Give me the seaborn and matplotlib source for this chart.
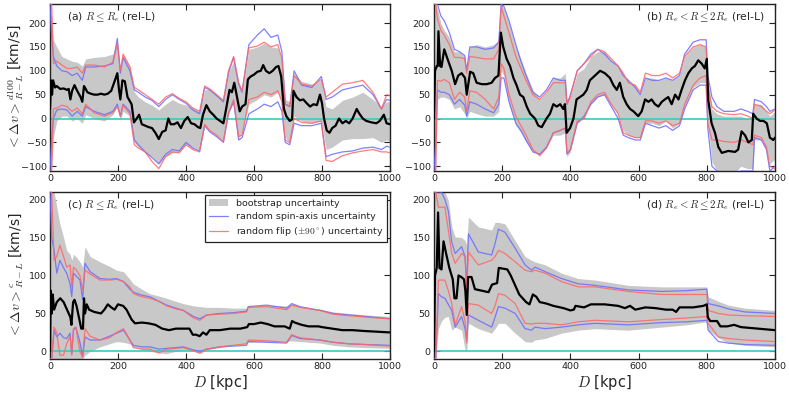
import numpy as np
import pandas as pd
import matplotlib
matplotlib.use("Agg")
import matplotlib.pyplot as plt
from matplotlib.patches import Patch
from matplotlib.lines import Line2D
import seaborn as sns

# ---------------- data ----------------
x_ticks = [0, 200, 400, 600, 800, 1000]
y_ticks_top = [-100, -50, 0, 50, 100, 150, 200]
y_ticks_bot = [0, 50, 100, 150, 200]
panel_titles = [r"(a) $R\leq R_e$ (rel-L)", r"(b) $R_e<R\leq 2R_e$ (rel-L)",
                r"(c) $R\leq R_e$ (rel-L)", r"(d) $R_e<R\leq 2R_e$ (rel-L)"]
legend_labels = ["bootstrap uncertainty", "random spin-axis uncertainty",
                 r"random flip ($\pm90^\circ$) uncertainty"]

# panel (a): mean (D, value)
mean_a = [(0, 20), (3, 80), (6, 50), (9, 80), (15, 65), (20, 68), (30, 62), (40, 63), (50, 60), (55, 62),
          (60, 40), (65, 58), (72, 70), (80, 58), (90, 45), (95, 35), (100, 68), (105, 62), (110, 55), (120, 52),
          (130, 50), (140, 50), (150, 52), (160, 50), (170, 52), (180, 58), (190, 78), (198, 95), (203, 60),
          (207, 40), (213, 80), (220, 78), (228, 45), (240, 30), (247, -8), (255, 0), (262, 8), (270, -12),
          (280, -15), (290, -18), (300, -20), (310, -30), (320, -43), (330, -28), (340, -25), (348, 0),
          (355, -12), (365, -12), (375, -8), (385, -20), (395, -5), (405, 3), (415, -10), (425, -12),
          (435, -18), (442, -20), (450, 8), (460, 28), (470, 15), (480, 8), (490, 0), (500, -5), (510, -10),
          (518, 20), (528, 60), (535, 55), (542, 75), (550, 45), (558, 15), (565, 25), (575, 30), (582, 82),
          (590, 88), (600, 92), (610, 98), (620, 100), (627, 112), (635, 100), (645, 95), (655, 100),
          (665, 108), (672, 110), (680, 88), (688, 20), (695, 5), (705, -5), (712, -2), (716, 58), (725, 45),
          (735, 38), (745, 40), (755, 32), (765, 25), (775, 30), (785, 28), (794, 50), (800, 32), (806, 0),
          (814, -25), (822, -30), (830, -20), (840, -15), (850, 0), (860, -10), (870, -5), (880, -10),
          (890, 0), (902, 20), (910, 10), (920, 0), (930, -5), (945, -8), (960, -10), (970, -5), (982, 8),
          (990, -10), (1000, -12)]
D_band_a = [0, 5, 10, 20, 35, 50, 65, 80, 95, 105, 130, 160, 185, 198, 207, 215, 235, 248, 260, 280,
            300, 320, 340, 360, 380, 400, 420, 440, 455, 470, 490, 510, 525, 540, 555, 565, 585, 610, 630,
            650, 670, 682, 692, 705, 718, 740, 770, 798, 812, 830, 860, 890, 920, 950, 975, 990, 1000]
boot_hi_a = [240, 200, 165, 150, 130, 125, 120, 118, 110, 125, 128, 130, 135, 160, 100, 135, 110, 55, 45, 35,
             28, 18, 30, 40, 32, 28, 22, 15, 60, 62, 50, 38, 95, 120, 70, 55, 145, 150, 158, 150,
             148, 120, 40, 35, 95, 78, 72, 80, 25, 20, 38, 45, 55, 40, 25, 35, 35]
boot_lo_a = [-110, -100, -40, -5, 5, 5, -5, 0, -10, 8, 0, -5, 8, 25, -5, 15, 5, -50, -60, -72,
             -80, -95, -80, -72, -70, -55, -60, -65, -15, -25, -35, -45, 15, 35, -40, -30, 30, 40, 50, 45,
             55, 35, -40, -50, 5, -5, -10, -5, -65, -60, -45, -42, -42, -40, -50, -45, -50]
spin_hi_a = [240, 170, 130, 110, 100, 98, 90, 95, 80, 108, 108, 110, 115, 168, 95, 128, 100, 60, 55, 45,
             38, 25, 40, 50, 40, 32, 18, 10, 65, 60, 48, 35, 95, 128, 72, 55, 155, 175, 188, 170,
             175, 140, 30, 25, 100, 70, 65, 88, 40, 45, 60, 65, 70, 50, 20, 40, 38]
spin_lo_a = [-110, -40, 0, 18, 20, 18, 5, 15, 5, 25, 15, 8, 15, 30, 5, 30, 15, -45, -55, -70,
             -82, -95, -75, -65, -68, -50, -62, -68, -15, -28, -38, -50, 10, 35, -45, -40, 10, 20, 30, 25,
             35, 15, -50, -55, -10, -15, -15, -10, -80, -75, -70, -68, -62, -60, -65, -58, -60]
flip_hi_a = [240, 240, 115, 120, 112, 105, 105, 108, 95, 112, 112, 108, 118, 158, 100, 135, 108, 65, 60, 50,
             40, 30, 45, 52, 42, 35, 22, 15, 68, 62, 50, 38, 100, 130, 75, 58, 148, 152, 160, 150,
             155, 125, 30, 25, 90, 72, 68, 82, 45, 55, 72, 75, 80, 55, 20, 50, 48]
flip_lo_a = [-110, -110, 20, 22, 28, 25, 15, 22, 10, 30, 12, 5, 12, 25, 5, 28, 10, -55, -62, -70,
             -90, -105, -80, -70, -72, -55, -65, -70, -12, -25, -35, -48, 12, 40, -38, -35, 40, 45, 55, 50,
             58, 35, -45, -50, 0, -8, -10, -5, -88, -90, -78, -72, -68, -65, -70, -70, -72]

# panel (b)
mean_b = [(0, 0), (3, 100), (8, 110), (11, 110), (13, 183), (18, 110), (22, 108), (30, 145), (42, 120),
          (52, 100), (62, 72), (71, 90), (81, 95), (91, 85), (96, 50), (106, 98), (115, 95), (125, 75),
          (140, 72), (155, 72), (169, 75), (179, 85), (189, 90), (196, 180), (203, 150), (213, 125),
          (223, 110), (233, 85), (242, 70), (252, 50), (262, 45), (272, 25), (282, 10), (296, 0), (306, -15),
          (316, -18), (330, 0), (340, 10), (350, 30), (360, 25), (370, 30), (379, 20), (384, 30), (389, -30),
          (399, -20), (409, 0), (418, 40), (428, 45), (438, 50), (448, 60), (457, 80), (472, 90), (487, 100),
          (501, 95), (516, 85), (526, 70), (536, 60), (545, 75), (555, 45), (565, 30), (575, 20), (585, 15),
          (599, 5), (609, 15), (619, 40), (629, 35), (638, 40), (648, 30), (658, 25), (668, 35), (677, 40),
          (687, 45), (697, 30), (707, 50), (717, 40), (726, 60), (736, 80), (746, 95), (756, 105), (765, 110),
          (775, 122), (785, 115), (794, 105), (800, 125), (804, 40), (814, -10), (824, -30), (834, -60),
          (844, -72), (863, -68), (883, -70), (892, -65), (902, -27), (912, -35), (922, -50), (932, -45),
          (936, 10), (946, 0), (956, -5), (966, -5), (976, -10), (985, -40), (995, -45), (1000, -40)]
D_band_b = [0, 5, 10, 20, 30, 45, 60, 75, 90, 96, 105, 125, 150, 175, 190, 197, 205, 220, 240, 255, 270,
            290, 310, 330, 350, 370, 385, 390, 400, 420, 440, 460, 480, 500, 520, 540, 555, 570, 590, 605,
            620, 640, 660, 680, 700, 720, 735, 760, 780, 798, 803, 815, 830, 850, 880, 900, 920, 935, 940,
            960, 975, 985, 1000]
boot_hi_b = [240, 240, 230, 200, 185, 170, 140, 140, 130, 95, 150, 155, 150, 155, 165, 240, 230, 200, 150,
             125, 95, 60, 40, 55, 85, 85, 95, 40, 45, 95, 105, 130, 140, 140, 120, 110, 90, 80, 70, 50,
             85, 85, 80, 85, 80, 90, 130, 150, 155, 150, 80, 20, 10, 5, 5, 5, 0, 0, 30, 30, 15, 5, 15]
boot_lo_b = [-110, -110, 40, 45, 45, 40, 20, 25, 10, 0, 15, 10, 5, 5, 15, 100, 90, 30, -15, -30, -50,
             -70, -75, -60, -35, -35, -30, -80, -70, -10, 0, 30, 45, 50, 30, 10, -25, -35, -40, -40,
             -10, -10, -15, -5, -20, -10, 25, 65, 75, 75, -10, -90, -110, -115, -115, -100, -105, -105,
             -45, -45, -65, -95, -85]
spin_hi_b = [240, 240, 240, 215, 205, 180, 145, 140, 132, 100, 150, 150, 145, 148, 160, 240, 235, 205, 155,
             120, 90, 55, 45, 60, 85, 80, 80, 30, 50, 100, 115, 135, 145, 135, 120, 110, 90, 80, 65, 50,
             85, 80, 80, 85, 80, 90, 135, 160, 165, 165, 90, 45, 25, 15, 15, 20, 15, 10, 40, 35, 25, 15, 20]
spin_lo_b = [-110, -50, 60, 55, 55, 50, 30, 40, 28, 5, 35, 30, 20, 12, 30, 85, 85, 35, -10, -25, -45,
             -70, -75, -60, -30, -25, -20, -75, -65, -10, 5, 30, 45, 50, 25, 0, -35, -40, -45, -45,
             -10, -15, -20, -15, -25, -15, 20, 60, 70, 70, -20, -100, -110, -115, -115, -110, -110, -110,
             -40, -45, -65, -110, -100]
flip_hi_b = [240, 240, 210, 185, 175, 155, 128, 128, 125, 95, 130, 128, 125, 125, 145, 235, 215, 180, 130,
             105, 80, 50, 40, 55, 75, 75, 75, 30, 45, 100, 115, 130, 145, 140, 125, 110, 95, 75, 70, 55,
             95, 90, 90, 95, 85, 95, 130, 150, 155, 150, 70, 25, 15, 10, 8, 10, 5, 0, 30, 25, 15, 10, 18]
flip_lo_b = [-110, -110, 80, 78, 82, 75, 40, 55, 45, 15, 58, 55, 40, 20, 45, 115, 105, 50, 5, -15, -35,
             -65, -78, -62, -30, -25, -20, -72, -65, -5, 0, 35, 50, 55, 30, 10, -30, -35, -40, -40,
             -5, -5, -10, -5, -15, -10, 30, 70, 85, 90, -10, -45, -45, -48, -50, -45, -50, -55,
             -35, -40, -60, -100, -105]

# panel (c)
mean_c = [(0, 0), (2, 80), (5, 50), (8, 75), (12, 55), (20, 65), (30, 70), (40, 65), (50, 55), (60, 45),
          (63, 35), (68, 65), (72, 68), (78, 60), (85, 45), (92, 30), (97, 30), (100, 70), (103, 50),
          (108, 62), (115, 55), (130, 52), (150, 50), (160, 55), (170, 62), (180, 58), (190, 55), (200, 62),
          (215, 60), (225, 55), (240, 42), (250, 37), (270, 38), (290, 37), (310, 35), (330, 30), (350, 28),
          (370, 30), (390, 30), (410, 30), (420, 22), (430, 22), (440, 20), (450, 25), (460, 22), (470, 28),
          (500, 28), (530, 30), (560, 30), (580, 32), (585, 36), (600, 36), (620, 38), (640, 36), (660, 33),
          (690, 33), (705, 30), (712, 40), (720, 38), (740, 35), (760, 33), (790, 33), (800, 32), (830, 30),
          (860, 28), (890, 28), (920, 27), (960, 26), (1000, 25)]
D_band_c = [0, 5, 12, 20, 29, 40, 49, 59, 64, 69, 76, 88, 96, 103, 118, 147, 175, 196, 216, 235, 245,
            270, 294, 320, 343, 370, 392, 422, 441, 461, 500, 539, 578, 583, 637, 696, 711, 735, 794,
            833, 880, 931, 1000]
boot_hi_c = [210, 210, 210, 190, 168, 150, 133, 128, 120, 128, 125, 118, 111, 138, 125, 118, 112, 107, 105,
             95, 89, 82, 76, 73, 70, 66, 63, 60, 59, 58, 58, 57, 57, 60, 61, 60, 63, 59, 56, 52, 50, 48, 46]
boot_lo_c = [-10, -10, -10, -10, -10, -10, -10, -10, -10, -10, -10, -10, -10, -5, 0, 6, 10, 13, 12, 10,
             6, 3, 0, -2, -3, 0, 2, 0, -3, 2, 5, 8, 10, 12, 13, 13, 14, 13, 11, 8, 6, 5, 4]
spin_hi_c = [210, 150, 133, 103, 120, 110, 103, 89, 72, 103, 100, 94, 68, 116, 105, 96, 95, 96, 92, 82,
             78, 74, 72, 66, 61, 57, 54, 46, 43, 48, 50, 51, 53, 59, 61, 57, 63, 59, 54, 50, 48, 46, 43]
spin_lo_c = [-10, -10, 28, 19, 24, 18, 17, 24, -3, 28, 32, 12, -7, 19, 15, 15, 20, 24, 28, 15,
             8, 6, 6, 3, 4, 5, 6, 2, 0, 3, 6, 7, 8, 13, 12, 11, 21, 17, 15, 12, 10, 9, 8]
flip_hi_c = [210, 210, 120, 125, 140, 125, 111, 114, 85, 111, 108, 100, 81, 107, 102, 94, 94, 95, 92, 85,
             76, 72, 70, 66, 60, 56, 54, 44, 41, 48, 49, 50, 52, 58, 59, 55, 61, 58, 54, 49, 47, 45, 43]
flip_lo_c = [-10, -10, 32, 25, -5, -5, 10, 20, -5, 30, 32, 0, -8, 30, 20, 15, 18, 25, 30, 15,
             5, 3, 3, -2, 3, 4, 5, 1, -2, 3, 6, 8, 10, 15, 14, 12, 22, 18, 15, 12, 10, 9, 7]

# panel (d)
mean_d = [(0, 0), (3, 100), (8, 110), (12, 183), (16, 110), (22, 108), (28, 145), (35, 130), (45, 110),
          (55, 95), (60, 70), (66, 70), (72, 100), (80, 98), (88, 95), (92, 80), (96, 48), (100, 98),
          (110, 98), (120, 82), (140, 80), (160, 78), (170, 88), (185, 90), (190, 110), (215, 108),
          (225, 100), (240, 85), (250, 75), (260, 70), (270, 65), (280, 62), (290, 75), (300, 72),
          (310, 65), (330, 63), (350, 60), (380, 57), (400, 54), (410, 55), (415, 60), (440, 58), (450, 60),
          (460, 62), (500, 62), (540, 60), (560, 57), (575, 60), (590, 55), (620, 58), (650, 57), (680, 55),
          (700, 55), (710, 52), (720, 58), (760, 58), (790, 60), (800, 62), (803, 45), (810, 40), (830, 40),
          (840, 33), (860, 33), (880, 35), (900, 32), (950, 30), (1000, 28)]
D_band_d = [0, 5, 13, 22, 32, 42, 52, 62, 81, 91, 96, 101, 130, 169, 179, 189, 208, 238, 267, 286, 296,
            326, 374, 423, 472, 570, 668, 740, 800, 804, 834, 863, 912, 1000]
boot_hi_d = [210, 210, 210, 210, 210, 199, 164, 151, 150, 146, 140, 177, 164, 160, 170, 170, 168, 146, 125,
             120, 118, 114, 103, 96, 94, 87, 85, 85, 85, 72, 66, 61, 57, 54]
boot_lo_d = [-10, -10, 30, 40, 45, 46, 28, 32, 28, 2, 0, 37, 30, 24, 30, 37, 37, 24, 13, 12, 15, 17, 24,
             28, 30, 28, 32, 35, 39, 28, 18, 11, 8, 6]
spin_hi_d = [210, 210, 210, 210, 200, 185, 144, 129, 138, 125, 85, 155, 131, 127, 142, 161, 157, 136, 114,
             107, 111, 105, 96, 89, 87, 81, 79, 80, 82, 63, 60, 56, 52, 50]
spin_lo_d = [-10, -10, 76, 72, 70, 62, 54, 32, 46, 30, 15, 48, 41, 32, 45, 59, 57, 50, 30, 28, 32, 30, 32,
             35, 37, 35, 38, 39, 41, 28, 13, 11, 9, 8]
flip_hi_d = [210, 210, 190, 190, 190, 160, 129, 116, 129, 125, 81, 131, 114, 120, 125, 133, 129, 118, 107,
             105, 107, 103, 92, 85, 85, 79, 75, 75, 75, 54, 50, 48, 47, 46]
flip_lo_d = [-10, -10, 94, 94, 94, 80, 63, 35, 59, 40, 11, 63, 61, 50, 60, 76, 74, 63, 37, 36, 37, 37, 35,
             39, 41, 39, 42, 44, 46, 37, 19, 17, 15, 13]

# ---------------- style ----------------
sns.set_theme(style="ticks", rc={
    "xtick.direction": "in", "ytick.direction": "in",
    "xtick.top": True, "ytick.right": True,
    "xtick.major.size": 4, "ytick.major.size": 4,
    "xtick.major.width": 0.8, "ytick.major.width": 0.8,
    "axes.edgecolor": "#222222", "axes.linewidth": 1.0,
    "xtick.labelsize": 6.8, "ytick.labelsize": 6.8,
})
plt.rcParams["font.family"] = ["DejaVu Sans"]
plt.rcParams["mathtext.fontset"] = "cm"

GRAY = "#c8c8c8"
BLUE = "#6a6aff"
RED = "#ff6666"
CYAN = "#3cc8c0"

fig = plt.figure(figsize=(7.89, 3.93), dpi=100)
W, H = 789.0, 393.0
def rect(l, t, r, b):
    return [l / W, 1 - b / H, (r - l) / W, (b - t) / H]

axes = [fig.add_axes(rect(50, 4, 390, 171)), fig.add_axes(rect(434, 4, 775, 171)),
        fig.add_axes(rect(50, 192, 390, 359)), fig.add_axes(rect(434, 192, 775, 359))]

datasets = [
    (mean_a, D_band_a, boot_lo_a, boot_hi_a, spin_lo_a, spin_hi_a, flip_lo_a, flip_hi_a),
    (mean_b, D_band_b, boot_lo_b, boot_hi_b, spin_lo_b, spin_hi_b, flip_lo_b, flip_hi_b),
    (mean_c, D_band_c, boot_lo_c, boot_hi_c, spin_lo_c, spin_hi_c, flip_lo_c, flip_hi_c),
    (mean_d, D_band_d, boot_lo_d, boot_hi_d, spin_lo_d, spin_hi_d, flip_lo_d, flip_hi_d),
]

for i, (ax, ds) in enumerate(zip(axes, datasets)):
    mean, Db, blo, bhi, slo, shi, flo, fhi = ds
    ax.fill_between(Db, blo, bhi, color=GRAY, lw=0, zorder=1)
    ax.axhline(0, color=CYAN, lw=1.2, zorder=2)
    for yv, col in [(shi, BLUE), (slo, BLUE), (fhi, RED), (flo, RED)]:
        sns.lineplot(x=Db, y=yv, ax=ax, color=col, lw=0.9, alpha=0.85,
                     estimator=None, sort=False, legend=False, zorder=3)
    dfm = pd.DataFrame(mean, columns=["D", "v"])
    sns.lineplot(data=dfm, x="D", y="v", ax=ax, color="black", lw=1.6,
                 estimator=None, sort=False, legend=False, zorder=4)
    ax.set_xlim(0, 1000)
    ax.set_xticks(x_ticks)
    if i < 2:
        ax.set_ylim(-110, 240)
        ax.set_yticks(y_ticks_top)
    else:
        ax.set_ylim(-10, 210)
        ax.set_yticks(y_ticks_bot)
    ax.set_xlabel("")
    ax.set_ylabel("")
    ax.tick_params(axis="both", which="major", pad=2.5, colors="#222222")
    if i % 2 == 0:
        ax.text(0.05, 0.965, panel_titles[i], transform=ax.transAxes, ha="left", va="top", fontsize=7.8)
    else:
        ax.text(0.97, 0.965, panel_titles[i], transform=ax.transAxes, ha="right", va="top", fontsize=7.8)

axes[0].set_ylabel(r"$<\Delta v>^{d100}_{R-L}$ [km/s]", fontsize=10)
axes[2].set_ylabel(r"$<\Delta v>^{c}_{R-L}$ [km/s]", fontsize=10)
axes[0].yaxis.set_label_coords(-0.072, 0.5)
axes[2].yaxis.set_label_coords(-0.072, 0.5)
axes[2].set_xlabel(r"$D$ [kpc]", fontsize=10.5, labelpad=1)
axes[3].set_xlabel(r"$D$ [kpc]", fontsize=10.5, labelpad=1)

handles = [Patch(facecolor=GRAY, edgecolor="none"),
           Line2D([], [], color=BLUE, lw=0.9, alpha=0.85),
           Line2D([], [], color=RED, lw=0.9, alpha=0.85)]
leg = axes[2].legend(handles, legend_labels, loc="upper right", fontsize=6.8, frameon=True,
                     fancybox=False, borderaxespad=0.3, handlelength=2.0, labelspacing=0.45,
                     borderpad=0.4)
leg.get_frame().set_edgecolor("#222222")
leg.get_frame().set_linewidth(0.9)
leg.get_frame().set_alpha(1)

fig.savefig("out.png", dpi=100)
